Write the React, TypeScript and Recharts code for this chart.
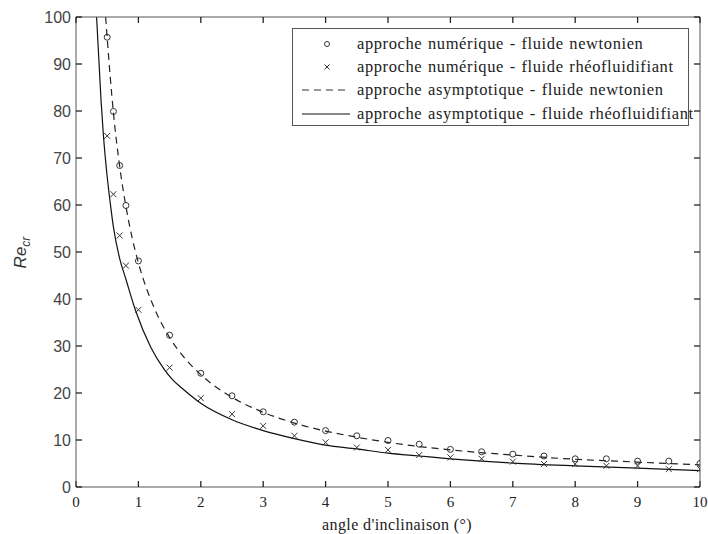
import React from 'react'
import { ComposedChart, Line, Scatter, XAxis, YAxis, Legend } from 'recharts'

const xTicks = [0, 1, 2, 3, 4, 5, 6, 7, 8, 9, 10]
const yTicks = [0, 10, 20, 30, 40, 50, 60, 70, 80, 90, 100]

// approche numérique (markers)
const numAngles = [0.5, 0.6, 0.7, 0.8, 1, 1.5, 2, 2.5, 3, 3.5, 4, 4.5, 5, 5.5, 6, 6.5, 7, 7.5, 8, 8.5, 9, 9.5, 10]
const numNewtonien = [95.7, 79.9, 68.4, 59.9, 48.1, 32.3, 24.2, 19.4, 16.0, 13.8, 12.0, 10.9, 9.9, 9.1, 8.0, 7.5, 7.0, 6.6, 6.0, 6.0, 5.5, 5.5, 5.0]
const numRheo = [74.7, 62.3, 53.5, 47.1, 37.7, 25.4, 18.9, 15.5, 13.0, 10.9, 9.5, 8.4, 7.9, 6.8, 6.3, 6.0, 5.4, 4.9, 4.9, 4.5, 4.5, 3.8, 3.8]

// approche asymptotique (curves)
const asymAnglesN = [0.475, 0.5, 0.6, 0.7, 0.8, 0.9, 1, 1.25, 1.5, 1.75, 2, 2.5, 3, 3.5, 4, 4.5, 5, 6, 7, 8, 9, 10]
const asymNewtonien = [100, 95.5, 79.6, 68.2, 59.7, 53.0, 47.7, 38.2, 31.8, 27.3, 23.9, 19.1, 15.9, 13.6, 11.9, 10.6, 9.5, 7.9, 6.8, 5.9, 5.3, 4.7]
const asymAnglesR = [0.33, 0.4, 0.44, 0.5, 0.55, 0.6, 0.7, 0.8, 0.95, 1.2, 1.4, 1.55, 1.7, 2, 2.5, 3, 3.5, 4, 4.5, 5, 5.5, 6, 7, 8, 9, 10]
const asymRheo = [100, 82.5, 74.7, 66.0, 60.3, 55.3, 48.6, 44.2, 37.7, 29.7, 25.3, 22.8, 21.0, 17.8, 14.3, 12.0, 10.3, 8.9, 8.1, 7.2, 6.6, 6.0, 5.1, 4.5, 4.0, 3.5]

const legendLabels = [
  'approche numérique - fluide newtonien',
  'approche numérique - fluide rhéofluidifiant',
  'approche asymptotique - fluide newtonien',
  'approche asymptotique - fluide rhéofluidifiant',
]

const toPoints = (xs: number[], ys: number[]) => xs.map((x, i) => ({ x, y: ys[i] }))

const ptsNumN = toPoints(numAngles, numNewtonien)
const ptsNumR = toPoints(numAngles, numRheo)
const ptsAsymN = toPoints(asymAnglesN, asymNewtonien)
const ptsAsymR = toPoints(asymAnglesR, asymRheo)

const INK = '#333'
const AXIS = '#555'
const TICK = 6
const TICK_INK = '#222'
const SERIF = '"Liberation Serif", "Times New Roman", serif'
const SANS = '"Liberation Sans", Arial, sans-serif'
const tickLineStyle = { stroke: TICK_INK, strokeWidth: 1.3 }

const CircleDot = (props: any) => {
  const { cx, cy } = props
  return <circle cx={cx} cy={cy} r={3} fill="none" stroke={INK} strokeWidth={1} />
}

const CrossDot = (props: any) => {
  const { cx, cy } = props
  const s = 3
  return (
    <g stroke={INK} strokeWidth={1}>
      <line x1={cx - s} y1={cy - s} x2={cx + s} y2={cy + s} />
      <line x1={cx - s} y1={cy + s} x2={cx + s} y2={cy - s} />
    </g>
  )
}

// frame axes (top / right): tick mark only, no label
const TopTick = (props: any) => {
  const { x, y } = props
  return <line x1={x} y1={y} x2={x} y2={y + TICK} stroke={TICK_INK} strokeWidth={1.3} />
}

const RightTick = (props: any) => {
  const { x, y } = props
  return <line x1={x} y1={y} x2={x - TICK} y2={y} stroke={TICK_INK} strokeWidth={1.3} />
}

function legendMarker(i: number) {
  if (i === 0) return <circle cx={34} cy={10} r={2.5} fill="none" stroke={INK} />
  if (i === 1) {
    return (
      <g stroke={INK}>
        <line x1={31.5} y1={7.5} x2={36.5} y2={12.5} />
        <line x1={31.5} y1={12.5} x2={36.5} y2={7.5} />
      </g>
    )
  }
  if (i === 2) return <line x1={9} y1={10} x2={57} y2={10} stroke={INK} strokeWidth={1.2} strokeDasharray="7 5" />
  return <line x1={9} y1={10} x2={57} y2={10} stroke="#111" strokeWidth={1.2} />
}

function LegendBox() {
  return (
    <div
      style={{
        border: `1px solid ${AXIS}`,
        background: '#fff',
        width: 395,
        height: 93,
        paddingTop: 3,
        boxSizing: 'content-box',
        fontFamily: SERIF,
        fontSize: 16.5,
        letterSpacing: 0.6,
        wordSpacing: 1,
        color: '#222',
      }}
    >
      {legendLabels.map((lbl, i) => (
        <div key={lbl} style={{ display: 'flex', alignItems: 'center', height: 23.3 }}>
          <svg width={64} height={20} style={{ flex: 'none' }}>{legendMarker(i)}</svg>
          <span style={{ whiteSpace: 'nowrap' }}>{lbl}</span>
        </div>
      ))}
    </div>
  )
}

const YTitle = (props: any) => {
  const { viewBox } = props
  const cx = viewBox.x - 0.5
  const cy = viewBox.y + viewBox.height / 2 + 0.5
  return (
    <text
      x={cx}
      y={cy}
      transform={`rotate(-90, ${cx}, ${cy})`}
      textAnchor="middle"
      fontFamily={SANS}
      fontStyle="italic"
      fontSize={17}
      fill="#333"
    >
      Re<tspan fontSize={12} dy={4}>cr</tspan>
    </text>
  )
}

const XTitle = (props: any) => {
  const { viewBox } = props
  return (
    <text
      x={viewBox.x + viewBox.width / 2 + 9}
      y={viewBox.y + 43}
      textAnchor="middle"
      fontFamily={SERIF}
      fontSize={16}
      letterSpacing={0.4}
      fill="#222"
    >
      angle d'inclinaison (°)
    </text>
  )
}

export default function App() {
  return (
    <div style={{ position: 'absolute', left: 0, top: 0 }}>
      <ComposedChart width={708} height={534} margin={{ top: 16, right: 7, left: 26, bottom: 7 }}>
        {/* ticks point inward: negative tickSize */}
        <XAxis
          dataKey="x"
          type="number"
          domain={[0, 10]}
          ticks={xTicks}
          allowDataOverflow
          interval={0}
          height={40}
          stroke={AXIS}
          tickLine={tickLineStyle}
          tickSize={-TICK}
          tickMargin={15}
          tick={{ fontFamily: SERIF, fontSize: 15, fill: '#222' }}
          label={<XTitle />}
        />
        <XAxis
          xAxisId="top"
          orientation="top"
          dataKey="x"
          type="number"
          domain={[0, 10]}
          ticks={xTicks}
          allowDataOverflow
          interval={0}
          height={1}
          stroke={AXIS}
          tickLine={false}
          tickSize={0}
          tickMargin={0}
          tick={<TopTick />}
        />
        <YAxis
          type="number"
          domain={[0, 100]}
          ticks={yTicks}
          allowDataOverflow
          interval={0}
          width={50}
          stroke={AXIS}
          tickLine={tickLineStyle}
          tickSize={-TICK}
          tickMargin={11}
          tick={{ fontFamily: SANS, fontSize: 16, fill: '#444' }}
          label={<YTitle />}
        />
        <YAxis
          yAxisId="right"
          orientation="right"
          type="number"
          domain={[0, 100]}
          ticks={yTicks}
          allowDataOverflow
          interval={0}
          width={1}
          stroke={AXIS}
          tickLine={false}
          tickSize={0}
          tickMargin={0}
          tick={<RightTick />}
        />
        <Legend
          layout="vertical"
          verticalAlign="middle"
          align="center"
          content={<LegendBox />}
          wrapperStyle={{ left: 292, top: 28, width: 397, height: 97 }}
        />
        {/* same fixed domains on both axis pairs, so the dashed curve also feeds the top/right frame axes */}
        <Line
          xAxisId="top"
          yAxisId="right"
          data={ptsAsymN}
          dataKey="y"
          type="monotone"
          stroke="#222"
          strokeWidth={1.2}
          strokeDasharray="7 5"
          dot={false}
          isAnimationActive={false}
        />
        <Line
          data={ptsAsymR}
          dataKey="y"
          type="monotone"
          stroke="#111"
          strokeWidth={1.2}
          dot={false}
          isAnimationActive={false}
        />
        <Scatter data={ptsNumN} dataKey="y" shape={<CircleDot />} isAnimationActive={false} />
        <Scatter data={ptsNumR} dataKey="y" shape={<CrossDot />} isAnimationActive={false} />
      </ComposedChart>
    </div>
  )
}
